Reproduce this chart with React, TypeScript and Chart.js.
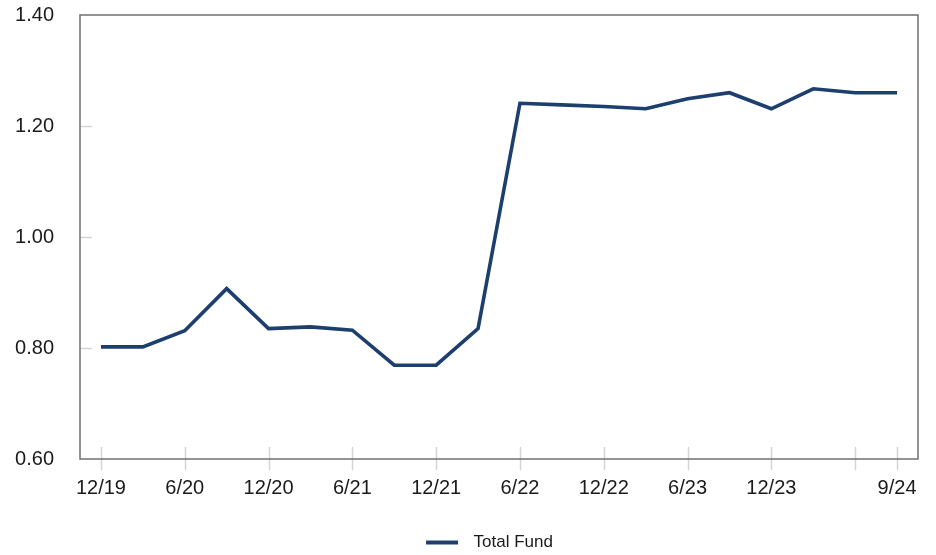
import React, { useEffect, useRef } from "react";
import { Chart, registerables } from "chart.js";

Chart.register(...registerables);

const quarters = [
  "12/19", "3/20", "6/20", "9/20", "12/20", "3/21", "6/21", "9/21", "12/21", "3/22",
  "6/22", "9/22", "12/22", "3/23", "6/23", "9/23", "12/23", "3/24", "6/24", "9/24",
];
const totalFund = [
  0.802, 0.802, 0.831, 0.907, 0.835, 0.838, 0.832, 0.769, 0.769, 0.835,
  1.241, 1.238, 1.235, 1.231, 1.249, 1.260, 1.231, 1.267, 1.260, 1.260,
];
const tickIndices = [0, 2, 4, 6, 8, 10, 12, 14, 16, 18, 19];
const labelIndices = [0, 2, 4, 6, 8, 10, 12, 14, 16, 19];
const yTickValues = [0.8, 1.0, 1.2];

const LINE_COLOR = "#1d3f6e";
const FONT = "'Liberation Sans', Arial, sans-serif";

function makeLegendSwatch() {
  const c = document.createElement("canvas");
  const L = 61;
  c.width = L + 32 + 7;
  c.height = 8;
  const g = c.getContext("2d")!;
  g.strokeStyle = LINE_COLOR;
  g.lineWidth = 4;
  g.beginPath();
  g.moveTo(L, 4);
  g.lineTo(L + 32, 4);
  g.stroke();
  return c;
}

const framePlugin = {
  id: "frame",
  afterDatasetsDraw(chart: any) {
    const { ctx, chartArea: a, scales } = chart;
    ctx.save();
    ctx.strokeStyle = "#d4d4d4";
    ctx.lineWidth = 1.5;
    for (const i of tickIndices) {
      const px = Math.round(scales.x.getPixelForValue(i)) + 0.5;
      ctx.beginPath();
      ctx.moveTo(px, a.bottom - 12);
      ctx.lineTo(px, a.bottom + 11);
      ctx.stroke();
    }
    for (const v of yTickValues) {
      const py = Math.round(scales.y.getPixelForValue(v)) + 0.5;
      ctx.beginPath();
      ctx.moveTo(a.left, py);
      ctx.lineTo(a.left + 12, py);
      ctx.stroke();
    }
    ctx.strokeStyle = "#707070";
    ctx.lineWidth = 1.5;
    ctx.strokeRect(a.left, a.top, a.right - a.left, a.bottom - a.top);
    ctx.restore();
  },
};

export default function App() {
  const ref = useRef<HTMLCanvasElement>(null);
  useEffect(() => {
    const swatch = makeLegendSwatch();
    const chart = new Chart(ref.current!, {
      type: "line",
      data: {
        labels: quarters,
        datasets: [
          {
            label: "Total Fund",
            data: totalFund,
            borderColor: LINE_COLOR,
            backgroundColor: LINE_COLOR,
            borderWidth: 3.6,
            pointRadius: 0,
            tension: 0,
            borderJoinStyle: "miter",
          },
        ],
      },
      options: {
        animation: false,
        responsive: false,
        layout: { padding: { left: 0, top: 15, right: 18, bottom: -6 } },
        plugins: {
          tooltip: { enabled: false },
          legend: {
            position: "bottom",
            labels: {
              usePointStyle: true,
              pointStyle: swatch as any,
              pointStyleWidth: swatch.width,
              color: "#1a1a1a",
              font: { family: FONT, size: 17 },
              padding: 2,
            },
          },
        },
        scales: {
          x: {
            offset: true,
            grid: { display: false, drawTicks: false },
            border: { display: false },
            ticks: {
              autoSkip: false,
              maxRotation: 0,
              color: "#1a1a1a",
              font: { family: FONT, size: 20 },
              padding: 17.5,
              callback: (_v: any, i: number) => (labelIndices.includes(i) ? quarters[i] : ""),
            },
            afterFit: (s: any) => {
              s.height = 73;
              s.paddingLeft = 0;
              s.paddingRight = 0;
            },
          },
          y: {
            min: 0.6,
            max: 1.4,
            grid: { display: false, drawTicks: false },
            border: { display: false },
            ticks: {
              stepSize: 0.2,
              color: "#1a1a1a",
              font: { family: FONT, size: 20 },
              padding: 26,
              callback: (v: any) => Number(v).toFixed(2),
            },
            afterFit: (s: any) => {
              s.width = 80;
              s.paddingTop = 0;
              s.paddingBottom = 0;
            },
          },
        },
      },
      plugins: [framePlugin],
    });
    return () => chart.destroy();
  }, []);
  return (
    <div style={{ position: "fixed", left: 0, top: 0, width: 936, height: 555, background: "#fff" }}>
      <canvas ref={ref} width={936} height={555} />
    </div>
  );
}
